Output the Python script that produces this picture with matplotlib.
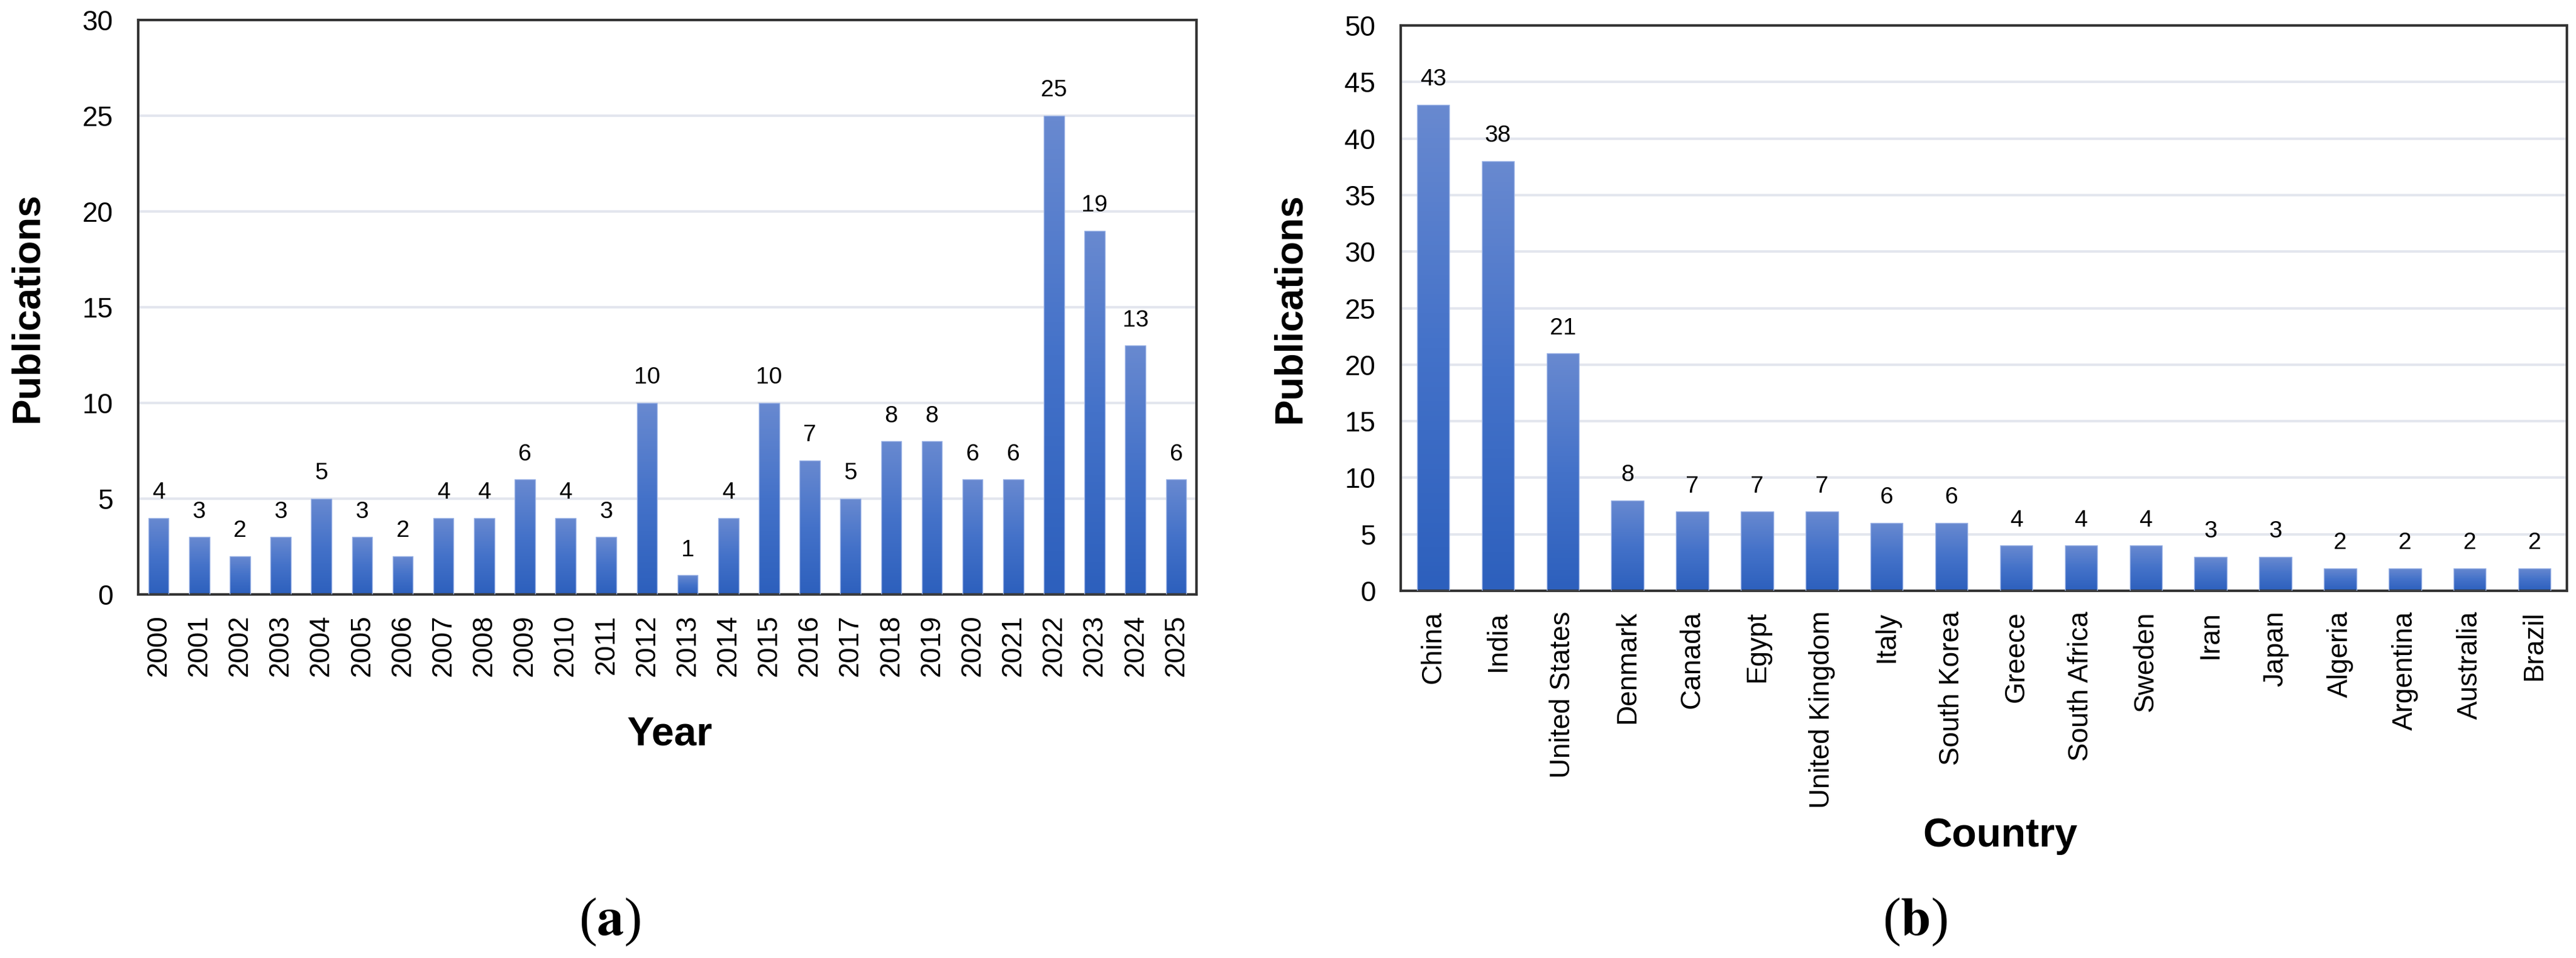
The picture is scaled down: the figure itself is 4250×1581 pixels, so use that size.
import numpy as np
import matplotlib.pyplot as plt
from matplotlib.colors import LinearSegmentedColormap

years = [str(y) for y in range(2000, 2026)]
year_counts = [4, 3, 2, 3, 5, 3, 2, 4, 4, 6, 4, 3, 10, 1, 4, 10, 7, 5, 8, 8, 6, 6, 25, 19, 13, 6]

countries = ['China', 'India', 'United States', 'Denmark', 'Canada', 'Egypt', 'United Kingdom',
             'Italy', 'South Korea', 'Greece', 'South Africa', 'Sweden', 'Iran', 'Japan',
             'Algeria', 'Argentina', 'Australia', 'Brazil']
country_counts = [43, 38, 21, 8, 7, 7, 7, 6, 6, 4, 4, 4, 3, 3, 2, 2, 2, 2]

plt.rcParams['font.family'] = ['Liberation Sans', 'DejaVu Sans']
plt.rcParams['mathtext.fontset'] = 'stix'

W, H = 4250, 1581
fig = plt.figure(figsize=(W / 100, H / 100), dpi=100)
grad = LinearSegmentedColormap.from_list('g', ['#2d60bd', '#4472c9', '#6889d0'])


def panel(box, cats, vals, ymax, xlabel, ylab_x, xlab_pos, caption_pos, caption):
    x0, y0, x1, y1 = box
    ax = fig.add_axes([x0 / W, 1 - y1 / H, (x1 - x0) / W, (y1 - y0) / H])
    pos = np.arange(len(cats))
    bars = ax.bar(pos, vals, width=0.5, facecolor='none', edgecolor='#9db4e6', linewidth=1, zorder=3)
    # vertical gradient fill, clipped to each bar
    for b in bars:
        bx, bw, bh = b.get_x(), b.get_width(), b.get_height()
        im = ax.imshow(np.linspace(0, 1, 100).reshape(-1, 1), cmap=grad, origin='lower',
                       extent=[bx, bx + bw, 0, bh], aspect='auto', zorder=2)
        im.set_clip_path(b)
    for p, v in zip(pos, vals):
        ax.annotate(str(v), (p, v), xytext=(0, 17), textcoords='offset points',
                    ha='center', va='bottom', fontsize=28)
    ax.set_xlim(-0.5, len(cats) - 0.5)
    ax.set_ylim(0, ymax)
    ax.set_yticks(np.arange(0, ymax + 1, 5))
    ax.set_xticks(pos)
    ax.set_xticklabels(cats, rotation=90, fontsize=33)
    for t in ax.get_yticklabels():
        t.set_fontsize(33)
    ax.tick_params(length=0)
    ax.tick_params(axis='y', pad=30)
    ax.tick_params(axis='x', pad=24)
    ax.yaxis.grid(True, color='#e3e6ee', linewidth=3, zorder=0)
    ax.set_axisbelow(True)
    for s in ax.spines.values():
        s.set_linewidth(3)
        s.set_color('#333333')
    ax.set_ylabel('Publications', fontsize=46, fontweight='bold')
    ax.yaxis.set_label_coords((ylab_x - x0) / (x1 - x0), 0.5)
    ax.yaxis.label.set_va('center')
    ax.set_xlabel(xlabel, fontsize=48, fontweight='bold')
    ax.xaxis.set_label_coords((xlab_pos[0] - x0) / (x1 - x0), (y1 - xlab_pos[1]) / (y1 - y0))
    ax.xaxis.label.set_va('center')
    fig.text(caption_pos[0] / W, 1 - caption_pos[1] / H, '(' + r'$\mathbf{' + caption + '}$' + ')',
             ha='center', va='center', fontsize=64, family='Liberation Serif')
    return ax


panel((228, 33, 1974, 981), years, year_counts, 30, 'Year', 45, (1105, 1212), (1006, 1522), 'a')
panel((2311, 42, 4235, 975), countries, country_counts, 50, 'Country', 2128, (3300, 1380), (3159, 1522), 'b')

fig.savefig('out.png', dpi=100, facecolor='white')
